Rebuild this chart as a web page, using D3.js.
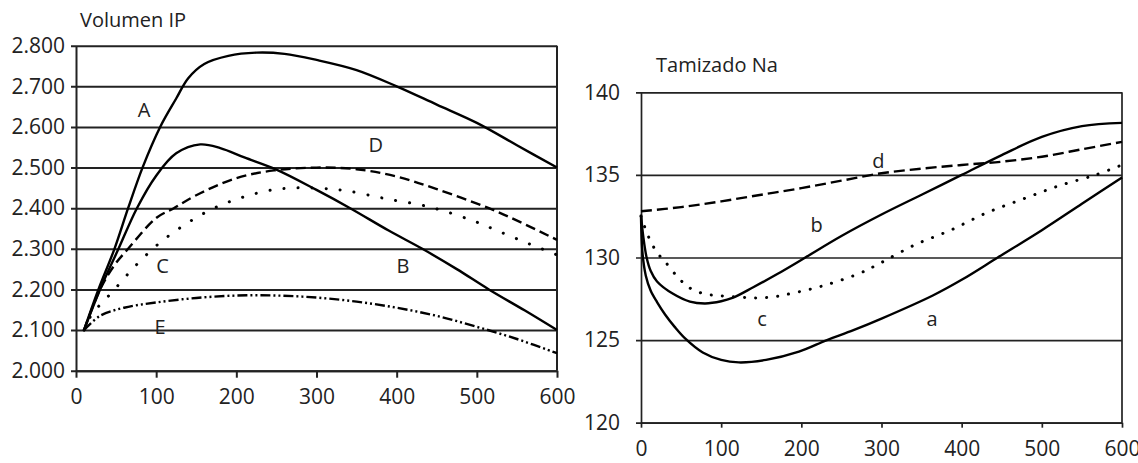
<!DOCTYPE html>
<html>
<head>
<meta charset="utf-8">
<title>Volumen IP / Tamizado Na</title>
<script src="https://cdn.jsdelivr.net/npm/d3@7"></script>
<style>
  body { margin: 0; background: #fff; }
  svg text { font-family: "Open Sans", sans-serif; fill: #222; }
</style>
</head>
<body>
<div id="chart"></div>
<script>
// ---- data: [minutos, valor] ----
var xTicks = [0, 100, 200, 300, 400, 500, 600];

// left panel: Volumen IP
var volTicks = [2.0, 2.1, 2.2, 2.3, 2.4, 2.5, 2.6, 2.7, 2.8];
var serieA = [[10,2.10],[28,2.20],[48,2.30],[65,2.40],[83,2.50],[105,2.60],[125,2.67],[140,2.72],[160,2.755],[190,2.775],[225,2.783],[260,2.78],[300,2.765],[350,2.74],[400,2.70],[450,2.655],[500,2.61],[550,2.555],[600,2.50]];
var serieB = [[10,2.10],[30,2.20],[53,2.30],[76,2.40],[100,2.48],[125,2.535],[155,2.557],[180,2.548],[210,2.525],[250,2.495],[300,2.445],[342,2.40],[390,2.345],[432,2.30],[475,2.25],[515,2.20],[560,2.148],[600,2.10]];
var serieC = [[10,2.10],[20,2.14],[34,2.17],[48,2.20],[75,2.26],[104,2.314],[137,2.361],[172,2.40],[208,2.427],[245,2.445],[275,2.45],[305,2.449],[337,2.443],[385,2.424],[441,2.403],[494,2.37],[531,2.34],[568,2.31],[600,2.285]];
var serieD = [[10,2.10],[30,2.20],[48,2.26],[65,2.30],[100,2.376],[122,2.40],[150,2.432],[200,2.474],[247,2.493],[300,2.50],[350,2.496],[400,2.478],[450,2.447],[515,2.40],[555,2.365],[600,2.322]];
var serieE = [[10,2.10],[30,2.135],[60,2.155],[100,2.168],[150,2.179],[200,2.185],[250,2.185],[300,2.18],[350,2.17],[400,2.155],[450,2.135],[500,2.108],[550,2.078],[600,2.043]];

// right panel: Tamizado Na
var naTicks = [120, 125, 130, 135, 140];
var serie_a = [[0,132.5],[2,130.2],[6,128.9],[12,128.0],[20,127.3],[30,126.55],[42,125.8],[55,125.1],[77,124.25],[100,123.8],[122,123.65],[156,123.8],[197,124.3],[232,125.0],[265,125.6],[300,126.3],[364,127.7],[400,128.65],[445,130.0],[500,131.65],[550,133.25],[600,134.85]];
var serie_b = [[0,132.6],[3,131.2],[7,130.0],[12,129.2],[20,128.55],[40,127.8],[61,127.33],[80,127.22],[100,127.35],[114,127.55],[140,128.2],[170,129.0],[205,130.0],[250,131.3],[300,132.6],[350,133.8],[400,135.0],[450,136.2],[500,137.3],[550,137.95],[600,138.15]];
var serie_c = [[0,132.5],[9,131.3],[20,130.3],[30,129.75],[47,128.75],[61,128.15],[79,127.8],[100,127.68],[124,127.6],[145,127.55],[165,127.62],[188,127.83],[228,128.3],[273,129.05],[300,129.7],[341,130.75],[386,131.65],[431,132.7],[477,133.55],[522,134.35],[567,135.0],[600,135.6]];
var serie_d = [[0,132.8],[50,133.05],[100,133.4],[150,133.8],[200,134.2],[250,134.65],[300,135.1],[350,135.38],[400,135.6],[450,135.8],[500,136.1],[550,136.55],[600,137.0]];

// curve labels: [texto, minutos, valor]
var volLabels = [["A",85,2.642],["D",374,2.558],["C",108,2.258],["B",408,2.26],["E",105,2.109]];
var naLabels = [["d",296,135.9],["b",219,132.0],["c",151,126.3],["a",363,126.3]];

var width = 1138, height = 463;

var svg = d3.select("#chart").append("svg")
    .attr("width", width)
    .attr("height", height);

svg.append("rect").attr("width", width).attr("height", height).attr("fill", "#fff");

function panel(opt) {
  var x = d3.scaleLinear().domain([0, 600]).range([opt.left, opt.right]);
  var y = d3.scaleLinear().domain(opt.yDomain).range([opt.bottom, opt.top]);
  var w = opt.right - opt.left;

  var g = svg.append("g");

  // gridlines + y labels
  var yAxis = g.append("g")
      .attr("transform", "translate(" + opt.left + ",0)")
      .call(d3.axisLeft(y).tickValues(opt.yTicks).tickFormat(opt.fmt)
        .tickSize(-w).tickSizeOuter(0).tickPadding(opt.yPad));
  yAxis.selectAll(".tick line")
      .attr("x1", -5)
      .attr("stroke", "#222")
      .attr("stroke-width", opt.gridW);
  yAxis.select(".domain").attr("stroke", "#222").attr("stroke-width", opt.gridW);
  yAxis.selectAll("text").attr("font-size", 21).attr("fill", "#222");

  // x axis
  var xAxis = g.append("g")
      .attr("transform", "translate(0," + opt.bottom + ")")
      .call(d3.axisBottom(x).tickValues(xTicks).tickFormat(d3.format("d"))
        .tickSize(opt.xTick).tickSizeOuter(0).tickPadding(opt.xPad));
  xAxis.selectAll(".tick line").attr("stroke", "#222").attr("stroke-width", opt.gridW);
  xAxis.select(".domain").attr("stroke", "#222").attr("stroke-width", opt.gridW);
  xAxis.selectAll("text").attr("font-size", 21).attr("fill", "#222");

  // right border
  g.append("line")
      .attr("x1", x(600)).attr("x2", x(600))
      .attr("y1", y(opt.yDomain[1])).attr("y2", y(opt.yDomain[0]))
      .attr("stroke", "#222").attr("stroke-width", opt.gridW);

  // title
  g.append("text")
      .attr("x", opt.titleX).attr("y", opt.titleY)
      .attr("font-size", 20)
      .text(opt.title);

  var line = d3.line()
      .x(function(d) { return x(d[0]); })
      .y(function(d) { return y(d[1]); })
      .curve(d3.curveCatmullRom.alpha(0.5));

  opt.series.forEach(function(s) {
    g.append("path")
        .datum(s.data)
        .attr("d", line)
        .attr("fill", "none")
        .attr("stroke", "#000")
        .attr("stroke-width", s.dots ? 3 : 2.4)
        .attr("stroke-linecap", s.dots ? "round" : "butt")
        .attr("stroke-dasharray", s.dash || null);
  });

  g.selectAll(".lbl")
    .data(opt.labels)
    .enter().append("text")
      .attr("x", function(d) { return x(d[1]); })
      .attr("y", function(d) { return y(d[2]); })
      .attr("text-anchor", "middle")
      .attr("dominant-baseline", "central")
      .attr("font-size", 20)
      .text(function(d) { return d[0]; });
}

panel({
  left: 76, right: 557, top: 45.7, bottom: 370.7,
  yDomain: [2.0, 2.8], yTicks: volTicks, fmt: d3.format(".3f"),
  yPad: 11, xTick: 7, xPad: 11, gridW: 2,
  title: "Volumen IP", titleX: 80, titleY: 27,
  labels: volLabels,
  series: [
    { data: serieA },
    { data: serieB },
    { data: serieC, dots: true, dash: "0.1,14" },
    { data: serieD, dash: "10,5" },
    { data: serieE, dash: "10,3,2,3,2,3" }
  ]
});

panel({
  left: 641, right: 1122, top: 92.3, bottom: 422.7,
  yDomain: [120, 140], yTicks: naTicks, fmt: d3.format("d"),
  yPad: 21, xTick: 5, xPad: 13, gridW: 1.7,
  title: "Tamizado Na", titleX: 656, titleY: 72,
  labels: naLabels,
  series: [
    { data: serie_a },
    { data: serie_b },
    { data: serie_c, dots: true, dash: "0.1,11" },
    { data: serie_d, dash: "11,5" }
  ]
});
</script>
</body>
</html>
